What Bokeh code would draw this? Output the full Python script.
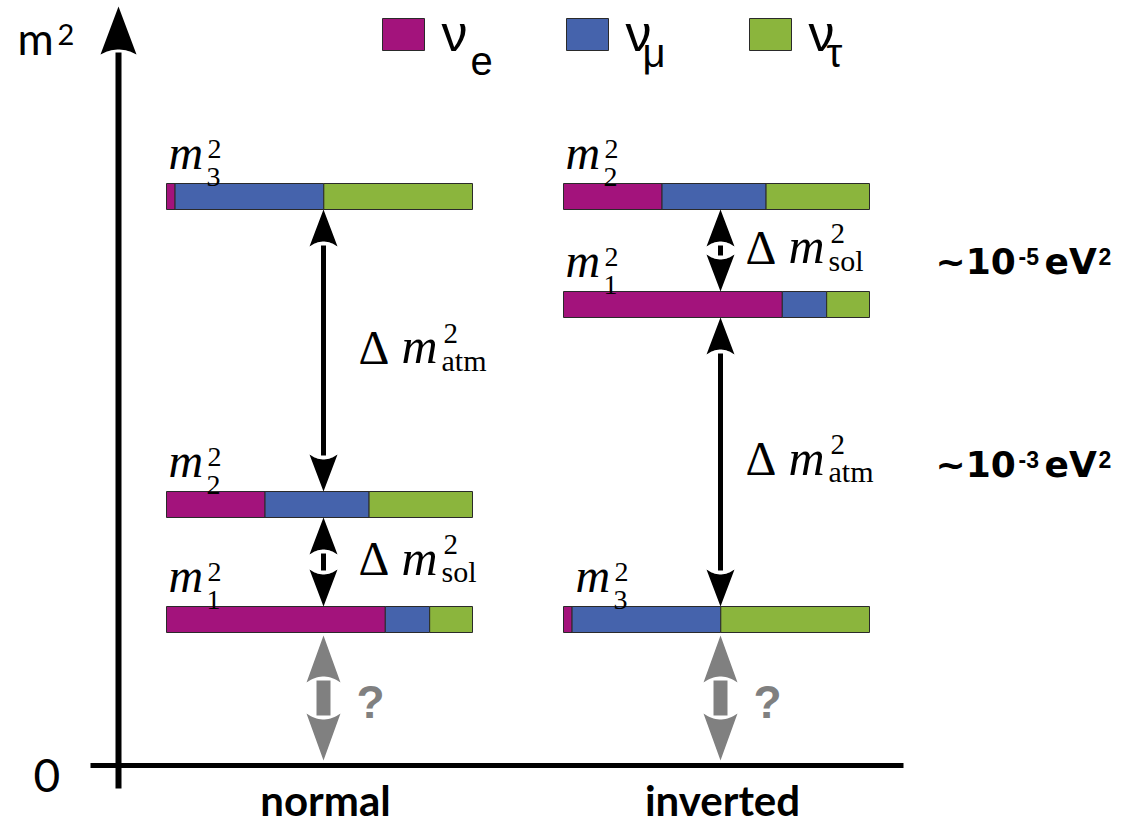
import numpy as np
from bokeh.plotting import figure
from bokeh.models import Range1d
from bokeh.embed import file_html
from bokeh.resources import INLINE
from bokeh.core.properties import value

# ---------------- data ----------------
flavor_subs = ["e", "μ", "τ"]
flavor_colors = ["#A3137C", "#4563AC", "#8BB53D"]

# flavour content (ν_e, ν_μ, ν_τ) of each mass state
mix_m1 = [0.715, 0.145, 0.140]
mix_m2 = [0.322, 0.340, 0.338]
mix_m3 = [0.028, 0.486, 0.486]
state_mix = [mix_m1, mix_m2, mix_m3]
state_index = ["1", "2", "3"]

orderings = ["normal", "inverted"]
ordering_left = [166, 563]          # left end of level bars
ordering_label_x = [325, 722]       # centre of ordering name
arrow_x = [323, 720]
bar_length = 306
bar_half = 13

# height of m1, m2, m3 above m^2 = 0 (diagram units)
normal_levels = [146, 261, 569]
inverted_levels = [461, 569, 146]
levels = [normal_levels, inverted_levels]

# x of the m_i^2 label for m1, m2, m3
normal_label_x = [168, 168, 168]
inverted_label_x = [565, 565, 575]
label_x = [normal_label_x, inverted_label_x]

# Δm² labels: x per ordering
dm_label_x = [358, 745]

# splitting scale labels
scale_exp = ["-5", "-3"]
scale_y = [492, 289]
scale_x = 935

# legend
legend_x = [382, 566, 749]
legend_sub_dx = [88, 76, 77]

# axis geometry (diagram units)
yaxis_x = 118
yaxis_bottom = -23
yaxis_tip = 759
xaxis_left = 90
xaxis_right = 903

# ---------------- figure ----------------
p = figure(width=1120, height=824, x_range=Range1d(0, 1120), y_range=Range1d(-59, 765),
           x_axis_type=None, y_axis_type=None, toolbar_location=None,
           output_backend="svg", min_border=0, outline_line_color=None,
           background_fill_color="white", border_fill_color="white")
p.grid.visible = False

DESC = {"Liberation Serif": 0.216, "Liberation Sans": 0.212, "DejaVu Sans": 0.236, "Lato": 0.2}


def txt(x, y, s, font, size, style="normal", color="black", align="left"):
    """place text with its alphabetic baseline at y"""
    p.text(x=[x], y=[y - DESC[font] * size], text=[s], text_font=value(font),
           text_font_style=style, text_font_size=f"{size}px", text_color=color,
           text_align=align, text_baseline="bottom")


def arrow_head(xc, tip, d, L, W, depth, n=18):
    back = tip - d * L
    u = np.linspace(1, -1, n)
    xs = [xc] + list(xc + W * u)
    ys = [tip] + list(back + d * depth * (1 - u ** 2))
    return xs, ys


def double_arrow(xc, y_lo, y_hi, L, W, depth, gap, m_top, m_bot):
    top_tip = y_hi - m_top
    bot_tip = y_lo + m_bot
    hx1, hy1 = arrow_head(xc, top_tip, +1, L, W, depth)
    hx2, hy2 = arrow_head(xc, bot_tip, -1, L, W, depth)
    stem_top = top_tip - L + depth - gap
    stem_bot = bot_tip + L - depth + gap
    return [hx1, hx2], [hy1, hy2], stem_bot, stem_top


# axes
p.segment(x0=[xaxis_left], y0=[0], x1=[xaxis_right], y1=[0], line_width=5, line_color="black")
ax_hx, ax_hy = arrow_head(yaxis_x, yaxis_tip, +1, 48, 18, 5)
p.segment(x0=[yaxis_x], y0=[yaxis_bottom], x1=[yaxis_x], y1=[yaxis_tip - 48 + 5 - 3],
          line_width=6, line_color="black")
p.patch(ax_hx, ax_hy, fill_color="black", line_color=None)

# level bars
for oi in range(2):
    for si in range(3):
        lv = levels[oi][si]
        fr = np.cumsum([0] + state_mix[si])
        left = ordering_left[oi] + bar_length * fr[:-1]
        right = ordering_left[oi] + bar_length * fr[1:]
        p.quad(left=left, right=right, bottom=[lv - bar_half] * 3, top=[lv + bar_half] * 3,
               fill_color=flavor_colors, line_color="#2a2a2a", line_width=1)

# black splitting arrows
pairs = [  # (ordering, lower state, upper state)
    (0, 1, 2), (0, 0, 1), (1, 0, 1), (1, 2, 0)
]
for oi, lo, hi in pairs:
    y_lo = levels[oi][lo] + bar_half
    y_hi = levels[oi][hi] - bar_half
    hxs, hys, sb, st = double_arrow(arrow_x[oi], y_lo, y_hi, 37, 14, 5, 4, 0, 0)
    if st > sb:
        p.segment(x0=[arrow_x[oi]], y0=[sb], x1=[arrow_x[oi]], y1=[st], line_width=5, line_color="black")
    p.patches(hxs, hys, fill_color="black", line_color=None)

# grey unknown absolute-scale arrows
for oi in range(2):
    y_hi = min(levels[oi]) - bar_half
    hxs, hys, sb, st = double_arrow(arrow_x[oi], 0, y_hi, 47, 17, 6, 4, 3, 5)
    p.segment(x0=[arrow_x[oi]], y0=[sb], x1=[arrow_x[oi]], y1=[st], line_width=14, line_color="#808080")
    p.patches(hxs, hys, fill_color="#808080", line_color=None)
    txt(arrow_x[oi] + 33, 47, "?", "Liberation Sans", 46, style="bold", color="#808080")

# m_i^2 labels
for oi in range(2):
    for si in range(3):
        top = levels[oi][si] + bar_half
        lx = label_x[oi][si]
        txt(lx, top + 15, "m", "Liberation Serif", 48, style="italic")
        txt(lx + 39, top + 32, "2", "Liberation Serif", 28)
        txt(lx + 38, top + 4, state_index[si], "Liberation Serif", 28)

# Δm² labels
for oi, lo, hi in pairs:
    mid = (levels[oi][lo] + levels[oi][hi]) / 2
    base = mid - 13
    sub = "sol" if abs(levels[oi][hi] - levels[oi][lo]) < 150 else "atm"
    x0 = dm_label_x[oi]
    txt(x0, base, "Δ", "Liberation Serif", 48)
    txt(x0 + 43, base, "m", "Liberation Serif", 50, style="italic")
    txt(x0 + 85, base + 27, "2", "Liberation Serif", 29)
    txt(x0 + 83, base - 7, sub, "Liberation Serif", 30)

# scale labels
for e, yy in zip(scale_exp, scale_y):
    txt(scale_x, yy, "~10", "DejaVu Sans", 36, style="bold")
    txt(scale_x + 83, yy + 13, e, "Liberation Sans", 23, style="bold")
    txt(scale_x + 109, yy, "eV", "DejaVu Sans", 36, style="bold")
    txt(scale_x + 163, yy + 13, "2", "Liberation Sans", 23, style="bold")

# legend
for lx, c, s, dx in zip(legend_x, flavor_colors, flavor_subs, legend_sub_dx):
    p.quad(left=[lx], right=[lx + 42], bottom=[715], top=[747], fill_color=c,
           line_color="#2a2a2a", line_width=1)
    txt(lx + 59, 715, "ν", "Liberation Sans", 52)
    txt(lx + dx, 699, s, "Liberation Sans", 40)

# axis texts
txt(17, 710, "m", "Lato", 44)
txt(57, 726, "2", "Lato", 29)
txt(33, -17, "0", "Lato", 46)
for ox, name in zip(ordering_label_x, orderings):
    txt(ox, -51, name, "Lato", 42, style="bold", align="center")

open("out.html", "w").write(file_html(p, INLINE))
